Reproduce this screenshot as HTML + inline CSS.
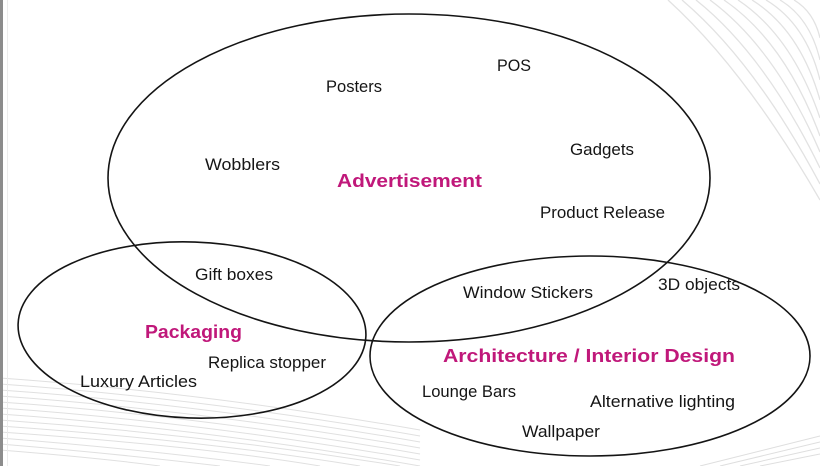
<!DOCTYPE html>
<html><head><meta charset="utf-8"><style>
html,body{margin:0;padding:0;background:#fff;}
svg{display:block;}
text{font-family:"Liberation Sans",sans-serif;}
.t{font-size:17px;fill:#151515;}
.b{font-size:18px;font-weight:bold;fill:#c0187a;}
</style></head><body>
<svg width="820" height="466" viewBox="0 0 820 466" xmlns="http://www.w3.org/2000/svg">
<rect width="820" height="466" fill="#fff"/>
<!-- top-right background arcs -->
<g fill="none" stroke="#e2e2e2" stroke-width="1.3">
<path d="M668 0 Q745 70 820 200"/>
<path d="M682 0 Q755 62 820 184"/>
<path d="M696 0 Q765 55 820 168"/>
<path d="M710 0 Q775 48 820 152"/>
<path d="M724 0 Q785 42 820 136"/>
<path d="M738 0 Q792 36 820 118"/>
<path d="M752 0 Q800 30 820 100"/>
<path d="M766 0 Q806 24 820 80"/>
<path d="M780 0 Q810 18 820 60"/>
<path d="M794 0 Q814 12 820 38"/>
</g>
<!-- bottom-left wavy stripes -->
<g fill="none" stroke="#e0e0e0" stroke-width="1">
<path d="M0 378 Q200 392 420 430"/>
<path d="M0 384 Q200 398 420 436"/>
<path d="M0 390 Q200 404 420 442"/>
<path d="M0 396 Q200 410 420 448"/>
<path d="M0 402 Q200 416 420 454"/>
<path d="M0 408 Q200 422 420 460"/>
<path d="M0 414 Q200 428 420 466"/>
<path d="M0 420 Q200 434 400 466"/>
<path d="M0 426 Q200 440 360 466"/>
<path d="M0 432 Q200 446 320 466"/>
<path d="M0 438 Q150 450 270 466"/>
<path d="M0 444 Q120 454 220 466"/>
<path d="M0 450 Q100 458 160 466"/>
</g>
<g fill="none" stroke="#dedede" stroke-width="1">
<path d="M700 466 L820 436"/>
<path d="M720 466 L820 442"/>
<path d="M740 466 L820 448"/>
<path d="M760 466 L820 454"/>
</g>
<!-- left border -->
<rect x="0" y="0" width="3" height="466" fill="#8c8c8c"/>
<rect x="7" y="0" width="1" height="466" fill="#ececec"/>
<!-- ellipses -->
<g fill="none" stroke="#141414" stroke-width="1.6">
<ellipse cx="409" cy="178" rx="301" ry="164"/>
<ellipse cx="192" cy="330" rx="174" ry="88" transform="rotate(2 192 330)"/>
<ellipse cx="590" cy="356" rx="220" ry="100"/>
</g>
<!-- labels -->
<text class="t" x="497" y="71" textLength="34" lengthAdjust="spacingAndGlyphs">POS</text>
<text class="t" x="326" y="92" textLength="56" lengthAdjust="spacingAndGlyphs">Posters</text>
<text class="t" x="205" y="170" textLength="75" lengthAdjust="spacingAndGlyphs">Wobblers</text>
<text class="t" x="570" y="155" textLength="64" lengthAdjust="spacingAndGlyphs">Gadgets</text>
<text class="t" x="540" y="218" textLength="125" lengthAdjust="spacingAndGlyphs">Product Release</text>
<text class="b" x="337" y="187" textLength="145" lengthAdjust="spacingAndGlyphs">Advertisement</text>
<text class="t" x="195" y="280" textLength="78" lengthAdjust="spacingAndGlyphs">Gift boxes</text>
<text class="t" x="463" y="298" textLength="130" lengthAdjust="spacingAndGlyphs">Window Stickers</text>
<text class="t" x="658" y="290" textLength="82" lengthAdjust="spacingAndGlyphs">3D objects</text>
<text class="b" x="145" y="338" textLength="97" lengthAdjust="spacingAndGlyphs">Packaging</text>
<text class="t" x="208" y="368" textLength="118" lengthAdjust="spacingAndGlyphs">Replica stopper</text>
<text class="t" x="80" y="387" textLength="117" lengthAdjust="spacingAndGlyphs">Luxury Articles</text>
<text class="b" x="443" y="362" textLength="292" lengthAdjust="spacingAndGlyphs">Architecture / Interior Design</text>
<text class="t" x="422" y="397" textLength="94" lengthAdjust="spacingAndGlyphs">Lounge Bars</text>
<text class="t" x="590" y="407" textLength="145" lengthAdjust="spacingAndGlyphs">Alternative lighting</text>
<text class="t" x="522" y="437" textLength="78" lengthAdjust="spacingAndGlyphs">Wallpaper</text>
</svg>
</body></html>
